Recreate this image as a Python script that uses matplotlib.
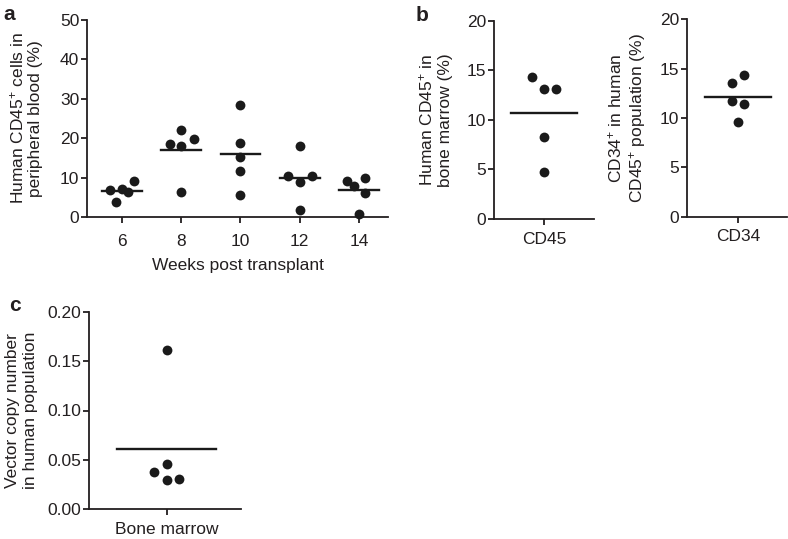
import matplotlib
matplotlib.use("Agg")
import matplotlib.pyplot as plt
import numpy as np

plt.rcParams['font.family'] = ['Liberation Sans', 'DejaVu Sans']
plt.rcParams['mathtext.fontset'] = 'custom'
plt.rcParams['mathtext.rm'] = 'Liberation Sans'
plt.rcParams['mathtext.it'] = 'Liberation Sans'
plt.rcParams['mathtext.bf'] = 'Liberation Sans:bold'

TXT = '#231f20'
FS = 12.5

# ---- panel a data: % human CD45+ in peripheral blood per week ----
weeks = [6, 8, 10, 12, 14]
blood_vals = {
    6: [6.9, 7.2, 6.25, 9.2, 3.7],
    8: [18.6, 22.1, 17.9, 19.8, 6.25],
    10: [28.4, 18.9, 15.2, 11.6, 5.6],
    12: [10.3, 8.8, 10.3, 17.9, 1.9],
    14: [9.2, 7.9, 9.9, 6.1, 0.85],
}
# horizontal jitter of each dot (in weeks) as seen in the picture
blood_jitter = {
    6: [-0.39, 0.0, 0.21, 0.42, -0.19],
    8: [-0.39, 0.0, 0.0, 0.42, 0.0],
    10: [0.0, 0.0, 0.0, 0.0, 0.0],
    12: [-0.38, 0.0, 0.4, 0.0, 0.0],
    14: [-0.39, -0.18, 0.2, 0.2, 0.0],
}

# ---- panel b data ----
cd45_bm = [14.3, 13.1, 13.1, 8.25, 4.77]
cd45_jit = [-0.2, 0.0, 0.2, 0.0, 0.0]
cd34 = [13.57, 14.4, 11.68, 11.38, 9.6]
cd34_jit = [-0.1, 0.1, -0.1, 0.1, 0.0]

# ---- panel c data ----
vcn = [0.161, 0.0455, 0.0374, 0.0297, 0.0307]
vcn_jit = [0.0, 0.0, -0.21, 0.0, 0.2]

W, H = 788, 539
fig = plt.figure(figsize=(W / 100, H / 100), dpi=100)


def make_ax(left, right, top, bottom, xpad=8):
    ax = fig.add_axes([left / W, 1 - bottom / H, (right - left) / W, (bottom - top) / H])
    ax.spines['top'].set_visible(False)
    ax.spines['right'].set_visible(False)
    for s in ('left', 'bottom'):
        ax.spines[s].set_linewidth(1.3)
        ax.spines[s].set_color(TXT)
    ax.tick_params(direction='out', length=4, width=1.3, colors=TXT,
                   labelsize=FS, labelcolor=TXT)
    ax.tick_params(axis='y', pad=1.5)
    ax.tick_params(axis='x', pad=xpad)
    return ax


def dots(ax, x0, vals, jit, half):
    xs = [x0 + j for j in jit]
    ax.scatter(xs, vals, s=50, color='#1a1a1a', zorder=3, linewidths=0, clip_on=False)
    m = np.mean(vals)
    ax.plot([x0 - half, x0 + half], [m, m], color='#1a1a1a', lw=1.7, zorder=2)


# ------------------------------- panel a -------------------------------
ax1 = make_ax(87, 388, 20, 217)
for w in weeks:
    dots(ax1, w, blood_vals[w], blood_jitter[w], 0.67)
ax1.set_xlim(4.82, 14.98)
ax1.set_ylim(0, 50)
ax1.set_xticks(weeks)
ax1.set_yticks([0, 10, 20, 30, 40, 50])
ax1.set_xlabel('Weeks post transplant', fontsize=FS, color=TXT, labelpad=7)
ax1.set_ylabel('Human CD45$^{+}$ cells in\nperipheral blood (%)', fontsize=FS, color=TXT,
               labelpad=12)

# ------------------------------- panel b -------------------------------
ax2 = make_ax(494, 594, 20.7, 219, xpad=5)
dots(ax2, 0, cd45_bm, cd45_jit, 0.55)
ax2.set_xlim(-0.83, 0.83)
ax2.set_ylim(0, 20)
ax2.set_xticks([0])
ax2.set_xticklabels(['CD45'])
ax2.set_yticks([0, 5, 10, 15, 20])
ax2.set_ylabel('Human CD45$^{+}$ in\nbone marrow (%)', fontsize=FS, color=TXT, labelpad=10)

ax3 = make_ax(687, 787, 19.3, 216.7, xpad=5)
dots(ax3, 0, cd34, cd34_jit, 0.55)
ax3.set_xlim(-0.85, 0.82)
ax3.set_ylim(0, 20)
ax3.set_xticks([0])
ax3.set_xticklabels(['CD34'])
ax3.set_yticks([0, 5, 10, 15, 20])
ax3.set_ylabel('CD34$^{+}$ in human\nCD45$^{+}$ population (%)', fontsize=FS, color=TXT,
               labelpad=8.5)

# ------------------------------- panel c -------------------------------
ax4 = make_ax(89, 241, 311.7, 509.3, xpad=5)
dots(ax4, 0, vcn, vcn_jit, 0.82)
ax4.set_xlim(-1.28, 1.23)
ax4.set_ylim(0, 0.2)
ax4.set_xticks([0])
ax4.set_xticklabels(['Bone marrow'])
ax4.set_yticks([0, 0.05, 0.10, 0.15, 0.20])
ax4.set_yticklabels(['0.00', '0.05', '0.10', '0.15', '0.20'])
ax4.set_ylabel('Vector copy number\nin human population', fontsize=FS, color=TXT, labelpad=7)

# panel letters
fig.text(3 / W, 1 - 20 / H, 'a', fontsize=15, fontweight='bold', color=TXT)
fig.text(416 / W, 1 - 21 / H, 'b', fontsize=15, fontweight='bold', color=TXT)
fig.text(9 / W, 1 - 311 / H, 'c', fontsize=15, fontweight='bold', color=TXT)

fig.savefig('out.png', dpi=100)
